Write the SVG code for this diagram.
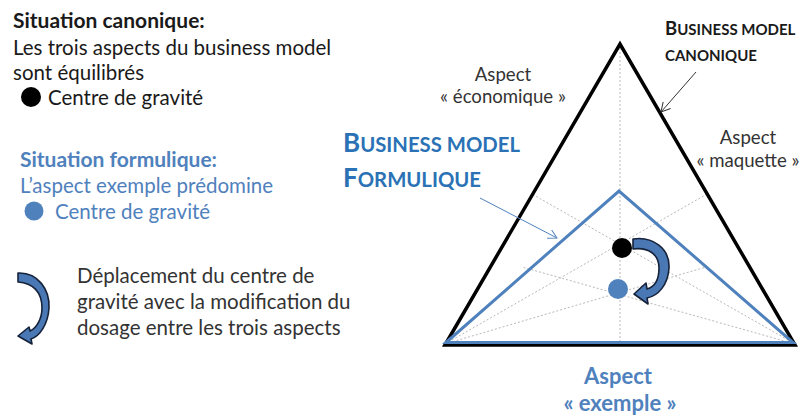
<svg xmlns="http://www.w3.org/2000/svg" width="806" height="416" viewBox="0 0 806 416">
<defs>
<style>
text{font-family:Lato,"Open Sans","Liberation Sans",sans-serif;}
.h{font-weight:bold;font-size:21px;}
.b{font-size:20.5px;}
.k{fill:#1a1a1a;}
.g{fill:#333333;}
.lb{fill:#4f81bd;}
.db{fill:#2a72b5;}
.asp{font-size:18.6px;fill:#333333;text-anchor:middle;}
.guide{stroke:#b8b8b8;stroke-width:1;stroke-dasharray:2 2;fill:none;}
.curv{fill:#4a78b4;stroke:#16223a;stroke-width:1.6;stroke-linejoin:round;}
</style>
<marker id="openK" markerWidth="12" markerHeight="12" refX="9" refY="5" orient="auto" markerUnits="userSpaceOnUse">
<path d="M0,0 L9,5 L0,10" fill="none" stroke="#333" stroke-width="1"/>
</marker>
<marker id="openB" markerWidth="12" markerHeight="12" refX="9" refY="5" orient="auto" markerUnits="userSpaceOnUse">
<path d="M0,0 L9,5 L0,10" fill="none" stroke="#4f81bd" stroke-width="1"/>
</marker>
</defs>
<rect width="806" height="416" fill="#ffffff"/>

<g id="legend-canonique">
<text class="h k" x="13" y="28">Situation canonique:</text>
<text class="b k" x="13" y="55">Les trois aspects du business model</text>
<text class="b k" x="13" y="80">sont équilibrés</text>
<circle cx="31" cy="97" r="10" fill="#000"/>
<text class="b k" x="48" y="105">Centre de gravité</text>
</g>

<g id="legend-formulique">
<text class="h lb" x="20" y="167">Situation formulique:</text>
<text class="b lb" x="20" y="193">L’aspect exemple prédomine</text>
<circle cx="34" cy="211" r="9.5" fill="#4f81bd"/>
<text class="b lb" x="55" y="219">Centre de gravité</text>
</g>

<g id="legend-deplacement">
<path class="curv" d="M18,273 C38,272 50,290 49,308 C48,324 40,336 31,339 L32,344 L18,336 L29,327 L30,331 C37,328 42,318 42,308 C42,292 33,283 18,282 Z"/>
<text class="b g" x="77" y="283">Déplacement du centre de</text>
<text class="b g" x="77" y="309">gravité avec la modification du</text>
<text class="b g" x="77" y="335">dosage entre les trois aspects</text>
</g>

<g id="guides">
<line class="guide" x1="620" y1="44" x2="620" y2="344"/>
<line class="guide" x1="445" y1="344" x2="707" y2="194"/>
<line class="guide" x1="795" y1="344" x2="532" y2="194"/>
<line class="guide" x1="445" y1="344" x2="706" y2="267"/>
<line class="guide" x1="795" y1="344" x2="522" y2="267"/>
</g>

<g id="triangle-canonique">
<path d="M445,345 L620,44 L795,345 Z" fill="none" stroke="#000" stroke-width="3.5" stroke-linejoin="miter"/>
</g>

<g id="triangle-formulique">
<path d="M446,342.5 L619,191 L793,342.5 Z" fill="none" stroke="#4f81bd" stroke-width="3" stroke-linejoin="miter"/>
</g>

<g id="centres">
<circle cx="622" cy="248" r="10" fill="#000"/>
<circle cx="618" cy="289" r="10" fill="#4f81bd"/>
<path class="curv" d="M633,239 C652,236 670,248 669,268 C668,285 658,296 647,298 L648,304 L634,294 L646,283 L647,289 C654,287 659,280 659,268 C659,254 648,247 633,249 Z"/>
</g>

<g id="label-economique">
<text class="asp" x="503" y="81">Aspect</text>
<text class="asp" x="503" y="103">« économique »</text>
</g>

<g id="label-maquette">
<text class="asp" x="748" y="144">Aspect</text>
<text class="asp" x="748" y="167">« maquette »</text>
</g>

<g id="label-exemple">
<text x="618" y="384" font-size="22" font-weight="bold" text-anchor="middle" class="lb">Aspect</text>
<text x="620" y="411" font-size="22" font-weight="bold" text-anchor="middle" class="lb">« exemple »</text>
</g>

<g id="title-canonique">
<text class="k" x="665" y="35" font-weight="bold"><tspan font-size="18.5">B</tspan><tspan font-size="15">USINESS MODEL</tspan></text>
<text class="k" x="665" y="61" font-weight="bold" font-size="15">CANONIQUE</text>
</g>

<g id="title-formulique">
<text class="db" x="343" y="152" font-weight="bold"><tspan font-size="26">B</tspan><tspan font-size="20.3">USINESS MODEL</tspan></text>
<text class="db" x="343" y="187" font-weight="bold"><tspan font-size="26">F</tspan><tspan font-size="20.3">ORMULIQUE</tspan></text>
</g>

<g id="connectors">
<line x1="696" y1="72" x2="661" y2="112" stroke="#333" stroke-width="1" marker-end="url(#openK)"/>
<line x1="480" y1="198" x2="557" y2="238" stroke="#4f81bd" stroke-width="1" marker-end="url(#openB)"/>
</g>
</svg>
